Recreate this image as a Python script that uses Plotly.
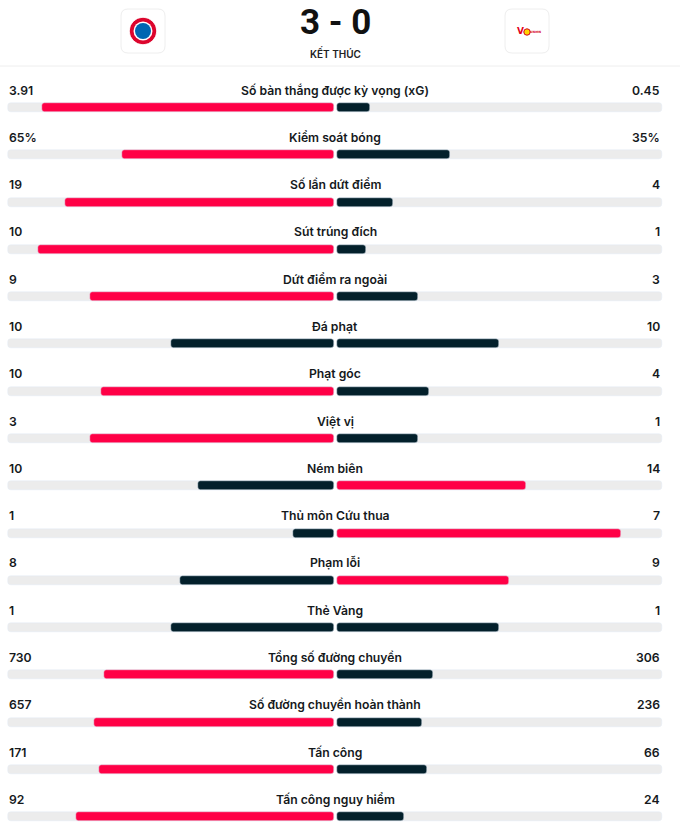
import plotly.graph_objects as go

# ---------------- data ----------------
categories = [
    "Số bàn thắng được kỳ vọng (xG)", "Kiểm soát bóng", "Số lần dứt điểm",
    "Sút trúng đích", "Dứt điểm ra ngoài", "Đá phạt", "Phạt góc", "Việt vị",
    "Ném biên", "Thủ môn Cứu thua", "Phạm lỗi", "Thẻ Vàng",
    "Tổng số đường chuyền", "Số đường chuyền hoàn thành", "Tấn công",
    "Tấn công nguy hiểm",
]
home_values = [3.91, 65, 19, 10, 9, 10, 10, 3, 10, 1, 8, 1, 730, 657, 171, 92]
away_values = [0.45, 35, 4, 1, 3, 10, 4, 1, 14, 7, 9, 1, 306, 236, 66, 24]
home_labels = ["3.91", "65%", "19", "10", "9", "10", "10", "3", "10", "1", "8", "1",
               "730", "657", "171", "92"]
away_labels = ["0.45", "35%", "4", "1", "3", "10", "4", "1", "14", "7", "9", "1",
               "306", "236", "66", "24"]
score_text = "3 - 0"
status_text = "KẾT THÚC"

# ---------------- style ----------------
RED = "#ff0046"
DARK = "#03202b"
TRACK = "#ececec"
TXT = "#15191c"
W, H = 680, 826
CX, HALF = 335.0, 326.7          # pixel centre and half width of the tracks
ROW0, STEP = 107.5, 47.29        # pixel centre of the first bar, row spacing
GAP = 1.5 / HALF
BAR_W = 9.0 / STEP
FONT = "Inter"
FS = 12.2
FW = 600

n = len(categories)
rows = list(range(n))

home_share = [h / (h + a) for h, a in zip(home_values, away_values)]
away_share = [a / (h + a) for h, a in zip(home_values, away_values)]
home_col = [RED if h > a else DARK for h, a in zip(home_values, away_values)]
away_col = [RED if a > h else DARK for h, a in zip(home_values, away_values)]

fig = go.Figure()
common = dict(orientation="h", width=BAR_W, hoverinfo="skip", showlegend=False)
fig.add_bar(y=rows, x=[-(1 - GAP)] * n, base=[-GAP] * n, marker_color=TRACK, **common)
fig.add_bar(y=rows, x=[(1 - GAP)] * n, base=[GAP] * n, marker_color=TRACK, **common)
fig.add_bar(y=rows, x=[-s * (1 - GAP) for s in home_share], base=[-GAP] * n,
            marker_color=home_col, **common)
fig.add_bar(y=rows, x=[s * (1 - GAP) for s in away_share], base=[GAP] * n,
            marker_color=away_col, **common)

ann = []
LBL_OFF = 17.5 / STEP
for i in rows:
    ann.append(dict(x=(7 - CX) / HALF, y=i - LBL_OFF, xref="x", yref="y", text=home_labels[i],
                    xanchor="left", yanchor="middle", showarrow=False,
                    font=dict(family=FONT, size=FS, color=TXT, weight=FW)))
    ann.append(dict(x=(662 - CX) / HALF, y=i - LBL_OFF, xref="x", yref="y", text=away_labels[i],
                    xanchor="right", yanchor="middle", showarrow=False,
                    font=dict(family=FONT, size=FS, color=TXT, weight=FW)))
    ann.append(dict(x=0, y=i - LBL_OFF, xref="x", yref="y", text=categories[i],
                    xanchor="center", yanchor="middle", showarrow=False,
                    font=dict(family=FONT, size=FS, color=TXT, weight=FW)))

# header
def px(xp):
    return xp / W

def py(yp):
    return 1 - yp / H

ann.append(dict(x=px(335), y=py(23), xref="paper", yref="paper", text=score_text,
                xanchor="center", yanchor="middle", showarrow=False,
                font=dict(family="Roboto", size=35, color="#111111", weight=700)))
ann.append(dict(x=px(335), y=py(53.5), xref="paper", yref="paper", text=status_text,
                xanchor="center", yanchor="middle", showarrow=False,
                font=dict(family=FONT, size=10, color="#222222", weight=600)))

shapes = []

def rounded_box(cx, cy, hw, r):
    path = (f"M {-hw + r},{-hw} L {hw - r},{-hw} Q {hw},{-hw} {hw},{-hw + r} "
            f"L {hw},{hw - r} Q {hw},{hw} {hw - r},{hw} L {-hw + r},{hw} "
            f"Q {-hw},{hw} {-hw},{hw - r} L {-hw},{-hw + r} Q {-hw},{-hw} {-hw + r},{-hw} Z")
    return dict(type="path", xref="paper", yref="paper", xsizemode="pixel", ysizemode="pixel",
                xanchor=px(cx), yanchor=py(cy), path=path,
                line=dict(color="#eeeeee", width=1), fillcolor="white", layer="above")

def circ(cx, cy, r, fill, line=None, lw=0):
    return dict(type="circle", xref="paper", yref="paper", xsizemode="pixel", ysizemode="pixel",
                xanchor=px(cx), yanchor=py(cy), x0=-r, x1=r, y0=-r, y1=r,
                fillcolor=fill, line=dict(color=line or fill, width=lw), layer="above")

shapes.append(rounded_box(143, 31, 22, 7))
shapes.append(rounded_box(527, 31, 22, 7))
# Bayern-like emblem
shapes.append(circ(143, 31, 13.5, "#dc052d"))
shapes.append(circ(143, 31, 9.5, "#ffffff"))
shapes.append(circ(143, 31, 8, "#0066b2"))
shapes.append(circ(143, 31, 13.8, "rgba(0,0,0,0)", "#ffffff", 0.8))
# Union-like emblem
shapes.append(circ(527, 32, 3.2, "#ffd400", "#d4001e", 1))
ann.append(dict(x=px(520), y=py(31), xref="paper", yref="paper", text="<b>V</b>",
                xanchor="center", yanchor="middle", showarrow=False,
                font=dict(family="DejaVu Sans", size=9, color="#e2001a")))
ann.append(dict(x=px(536), y=py(32), xref="paper", yref="paper", text="<b>UNION</b>",
                xanchor="center", yanchor="middle", showarrow=False,
                font=dict(family="DejaVu Sans", size=3, color="#d4001e")))
# separator
shapes.append(dict(type="line", xref="paper", yref="paper", x0=0, x1=1, y0=py(66), y1=py(66),
                   line=dict(color="#eeeeee", width=1)))

fig.update_layout(
    width=W, height=H, margin=dict(l=0, r=0, t=0, b=0),
    paper_bgcolor="white", plot_bgcolor="white",
    barmode="overlay", barcornerradius=3, bargap=0,
    xaxis=dict(range=[(0 - CX) / HALF, (W - CX) / HALF], visible=False, fixedrange=True),
    yaxis=dict(range=[(H - ROW0) / STEP, -ROW0 / STEP], visible=False, fixedrange=True),
    annotations=ann, shapes=shapes,
)

fig.write_html("out.html", config={"displayModeBar": False},
               post_script="document.body.style.margin='0';document.body.style.overflow='hidden';")
